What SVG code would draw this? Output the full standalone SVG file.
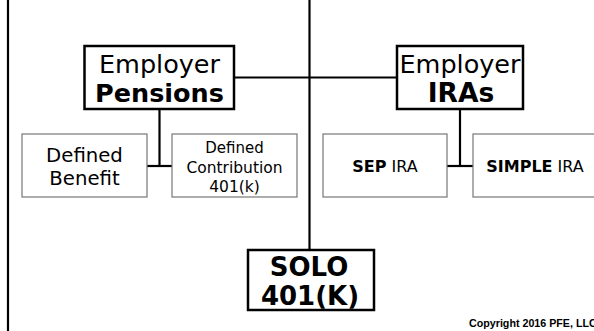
<svg xmlns="http://www.w3.org/2000/svg" width="594" height="331" viewBox="0 0 594 331">
  <style>
    .main { fill: #fff; stroke: #000; stroke-width: 2.5; }
    .sub { fill: #fff; stroke: #777; stroke-width: 1.2; }
    .wire { stroke: #000; stroke-width: 2.2; fill: none; }
    text { font-family: "DejaVu Sans", sans-serif; fill: #000; text-anchor: middle; }
    .b { font-weight: bold; }
    .copy { font-family: "Liberation Sans", Arial, sans-serif; font-weight: bold; font-size: 10.7px; text-anchor: start; }
  </style>
  <rect width="594" height="331" fill="#fff"/>

  <g id="connectors">
    <line class="wire" x1="8" y1="0" x2="8" y2="331"/>
    <line class="wire" x1="309.5" y1="0" x2="309.5" y2="250"/>
    <line class="wire" x1="234" y1="77.5" x2="397" y2="77.5"/>
    <line class="wire" x1="159.5" y1="109" x2="159.5" y2="166"/>
    <line class="wire" x1="147" y1="166" x2="172" y2="166"/>
    <line class="wire" x1="460" y1="109" x2="460" y2="166"/>
    <line class="wire" x1="447" y1="166" x2="473" y2="166"/>
  </g>

  <g id="employer-pensions">
    <rect class="main" x="84.5" y="46" width="149.5" height="63"/>
    <text x="159.5" y="73" font-size="25.5">Employer</text>
    <text x="159.5" y="102" font-size="25.5" class="b">Pensions</text>
  </g>

  <g id="employer-iras">
    <rect class="main" x="397" y="46" width="126" height="63"/>
    <text x="460" y="73" font-size="25.5">Employer</text>
    <text x="461" y="102" font-size="26.5" class="b">IRAs</text>
  </g>

  <g id="defined-benefit">
    <rect class="sub" x="22" y="134" width="125" height="63"/>
    <text x="84.5" y="162" font-size="19.7">Defined</text>
    <text x="84.5" y="185" font-size="19.7">Benefit</text>
  </g>

  <g id="defined-contribution">
    <rect class="sub" x="172" y="134" width="125" height="63"/>
    <text x="234.5" y="153" font-size="15">Defined</text>
    <text x="234.5" y="173" font-size="15.5">Contribution</text>
    <text x="234.5" y="192" font-size="15.5">401(k)</text>
  </g>

  <g id="sep-ira">
    <rect class="sub" x="323" y="134" width="124" height="63"/>
    <text x="385" y="172" font-size="16"><tspan class="b">SEP</tspan> IRA</text>
  </g>

  <g id="simple-ira">
    <rect class="sub" x="473" y="134" width="130" height="63"/>
    <text x="535" y="172" font-size="16"><tspan class="b">SIMPLE</tspan> IRA</text>
  </g>

  <g id="solo-401k">
    <rect class="main" x="248" y="250" width="126" height="60"/>
    <text x="309" y="276" font-size="26" class="b">SOLO</text>
    <text x="310" y="305" font-size="26" class="b">401(K)</text>
  </g>

  <text class="copy" x="469" y="327">Copyright 2016 PFE, LLC</text>
</svg>
